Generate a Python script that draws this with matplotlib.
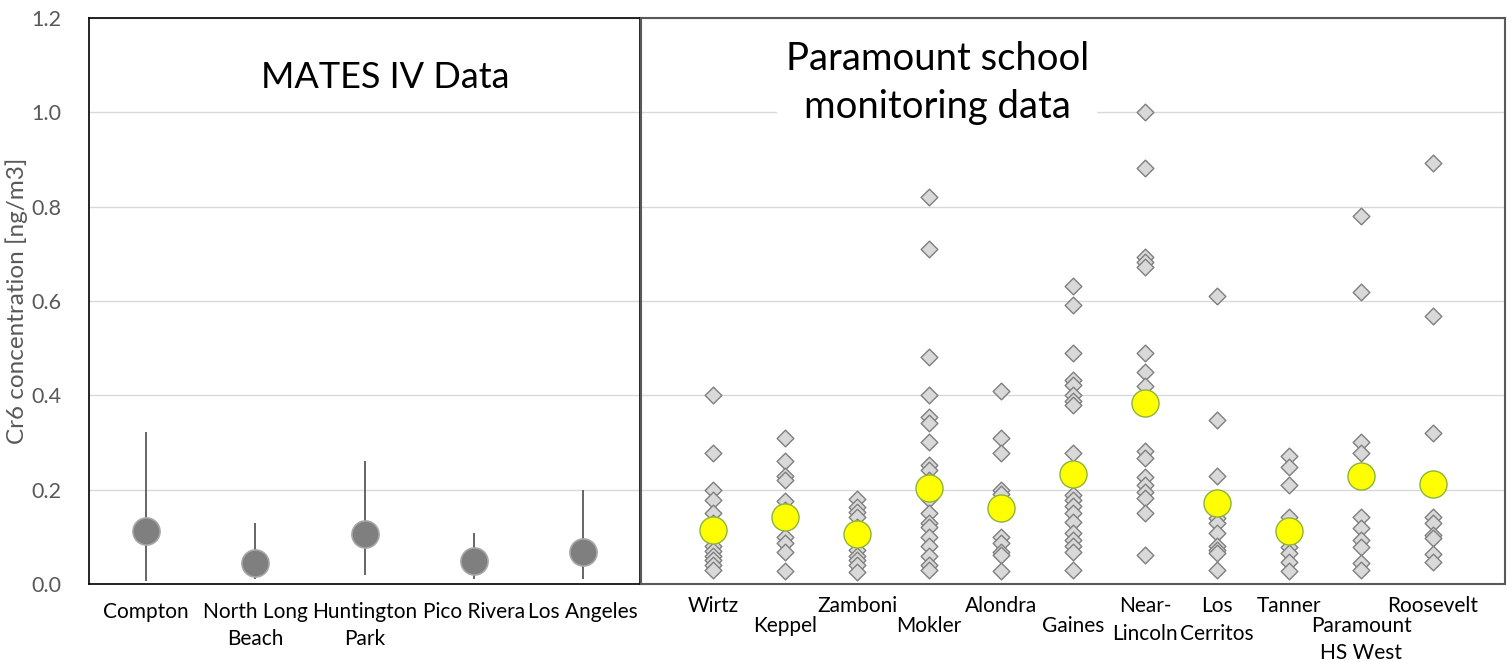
import matplotlib
matplotlib.use('Agg')
import matplotlib.pyplot as plt

plt.rcParams['font.family'] = ['Lato', 'DejaVu Sans']

# MATES IV sites: mean with min/max range
mates_sites = ['Compton', 'North Long\nBeach', 'Huntington\nPark', 'Pico Rivera', 'Los Angeles']
mates_mean = [0.112, 0.044, 0.106, 0.049, 0.068]
mates_low = [0.006, 0.010, 0.019, 0.010, 0.010]
mates_high = [0.322, 0.129, 0.260, 0.108, 0.200]

# Paramount schools: individual samples and mean
schools = ['Wirtz', 'Keppel', 'Zamboni', 'Mokler', 'Alondra', 'Gaines', 'Near-\nLincoln',
           'Los\nCerritos', 'Tanner', 'Paramount\nHS West', 'Roosevelt']
school_mean = [0.115, 0.142, 0.106, 0.203, 0.161, 0.233, 0.383, 0.171, 0.112, 0.228, 0.212]
wirtz = [0.40, 0.278, 0.20, 0.178, 0.15, 0.13, 0.10, 0.08, 0.07, 0.06, 0.05, 0.04, 0.03]
keppel = [0.31, 0.26, 0.23, 0.22, 0.175, 0.157, 0.10, 0.087, 0.068, 0.028]
zamboni = [0.18, 0.164, 0.153, 0.142, 0.12, 0.10, 0.072, 0.06, 0.05, 0.04, 0.026]
mokler = [0.821, 0.71, 0.481, 0.40, 0.353, 0.341, 0.302, 0.252, 0.242, 0.22, 0.20, 0.18,
          0.15, 0.13, 0.12, 0.10, 0.08, 0.06, 0.04, 0.03]
alondra = [0.41, 0.31, 0.278, 0.20, 0.19, 0.15, 0.10, 0.087, 0.068, 0.061, 0.028]
gaines = [0.632, 0.592, 0.49, 0.433, 0.422, 0.40, 0.387, 0.38, 0.278, 0.189, 0.178, 0.165,
          0.15, 0.132, 0.108, 0.093, 0.08, 0.068, 0.03]
near_lincoln = [1.001, 0.882, 0.694, 0.683, 0.673, 0.49, 0.45, 0.42, 0.282, 0.267, 0.227,
                0.21, 0.196, 0.182, 0.15, 0.061]
los_cerritos = [0.61, 0.348, 0.229, 0.17, 0.14, 0.13, 0.108, 0.08, 0.072, 0.065, 0.03]
tanner = [0.271, 0.249, 0.21, 0.143, 0.12, 0.10, 0.079, 0.065, 0.047, 0.028]
paramount_hs = [0.78, 0.62, 0.30, 0.278, 0.143, 0.119, 0.093, 0.079, 0.044, 0.03]
roosevelt = [0.892, 0.569, 0.321, 0.141, 0.129, 0.104, 0.098, 0.064, 0.047]
samples = [wirtz, keppel, zamboni, mokler, alondra, gaines, near_lincoln,
           los_cerritos, tanner, paramount_hs, roosevelt]

# which school labels drop to the lower row
lowered = [False, True, False, True, False, True, False, False, False, True, False]

fig = plt.figure(figsize=(15.12, 6.61), dpi=100)
ax1 = fig.add_axes([0.0589, 0.1165, 0.3644, 0.8563])
ax2 = fig.add_axes([0.4239, 0.1165, 0.5715, 0.8563])

for ax in (ax1, ax2):
    ax.set_ylim(0, 1.2)
    ax.set_yticks([0, 0.2, 0.4, 0.6, 0.8, 1.0, 1.2])
    ax.grid(axis='y', color='#d9d9d9', linewidth=1)
    ax.set_axisbelow(True)
    ax.tick_params(length=0)

# left panel
x1 = list(range(len(mates_sites)))
ax1.vlines(x1, mates_low, mates_high, color='#595959', linewidth=1.3, zorder=2)
ax1.scatter(x1, mates_mean, s=380, color='#7f7f7f', edgecolors='#a6a6a6',
            linewidths=1.2, zorder=3)
ax1.set_xlim(-0.52, 4.52)
ax1.set_xticks(x1)
ax1.set_xticklabels(mates_sites, fontsize=15, linespacing=1.45)
ax1.tick_params(axis='x', pad=13)
ax1.set_yticklabels(['0.0', '0.2', '0.4', '0.6', '0.8', '1.0', '1.2'],
                    fontsize=15.5, color='#595959')
ax1.tick_params(axis='y', pad=20)
ax1.set_ylabel('Cr6 concentration [ng/m3]', fontsize=17.5, color='#595959', labelpad=2)
for s in ax1.spines.values():
    s.set_color('black')
    s.set_linewidth(1.2)
ax1.text(0.537, 0.894, 'MATES IV Data', transform=ax1.transAxes,
         ha='center', va='center', fontsize=26)

# right panel
for i, vals in enumerate(samples):
    ax2.scatter([i + 1] * len(vals), vals, marker='D', s=72, color='#d9d9d9',
                edgecolors='#7f7f7f', linewidths=1, zorder=2)
ax2.scatter(range(1, len(schools) + 1), school_mean, s=380, color='#ffff00',
            edgecolors='#8db33a', linewidths=1.0, zorder=3)
ax2.set_xlim(0, 12)
ax2.set_xticks(range(1, len(schools) + 1))
ax2.set_xticklabels(schools, fontsize=15, linespacing=1.45)
for t, low in zip(ax2.xaxis.get_major_ticks(), lowered):
    t.set_pad(23 if low else 9)
ax2.set_yticklabels([])
for s in ax2.spines.values():
    s.set_color('#595959')
    s.set_linewidth(1.5)
ax2.text(0.343, 0.885, 'Paramount school\nmonitoring data', transform=ax2.transAxes,
         ha='center', va='center', fontsize=27.5, linespacing=1.4,
         bbox=dict(facecolor='white', edgecolor='none', pad=6), zorder=5)

fig.savefig('out.png', dpi=100)
